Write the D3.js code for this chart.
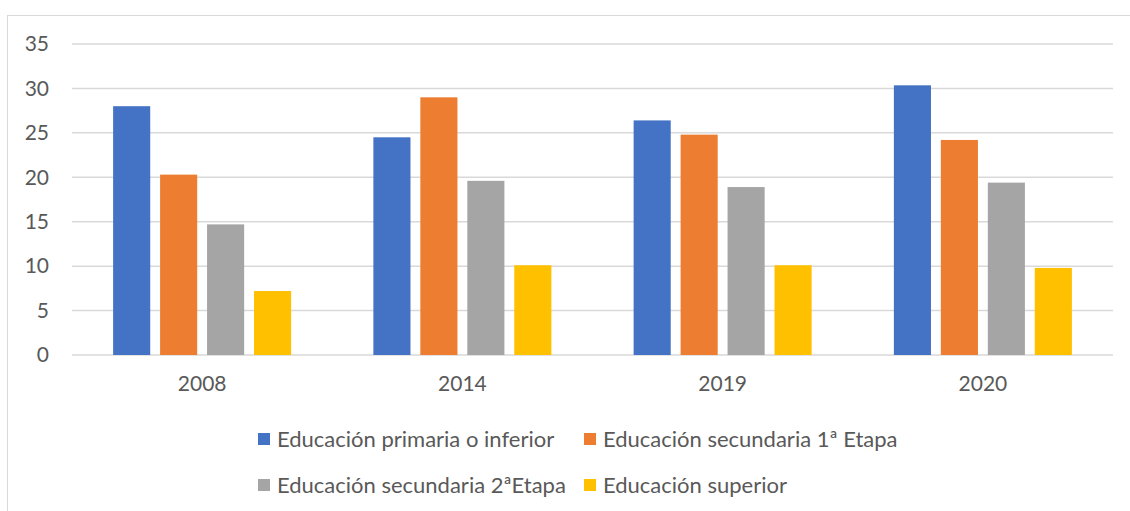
<!DOCTYPE html>
<html>
<head>
<meta charset="utf-8">
<script src="https://cdn.jsdelivr.net/npm/d3@7"></script>
<style>
  body { margin: 0; background: #fff; }
  svg { display: block; font-family: Lato, 'Open Sans', sans-serif; }
</style>
</head>
<body>
<div id="chart"></div>
<script>
// Data
const years = ['2008', '2014', '2019', '2020']
const seriesNames = [
  'Educación primaria o inferior',
  'Educación secundaria 1ª Etapa',
  'Educación secundaria 2ªEtapa',
  'Educación superior',
]
const primaria = [28.0, 24.5, 26.4, 30.35]
const secundaria1 = [20.3, 29.0, 24.8, 24.2]
const secundaria2 = [14.7, 19.6, 18.9, 19.4]
const superior = [7.2, 10.1, 10.1, 9.8]
const yTicks = [0, 5, 10, 15, 20, 25, 30, 35]
const colors = ['#4472C4', '#ED7D31', '#A5A5A5', '#FFC000']

const seriesValues = [primaria, secundaria1, secundaria2, superior]

const width = 1130
const height = 511
const margin = { left: 72, right: 17, top: 44, bottom: 156 }

const svg = d3
  .select('#chart')
  .append('svg')
  .attr('width', width)
  .attr('height', height)

// Outer chart frame
svg
  .append('rect')
  .attr('x', 7.5)
  .attr('y', 15.5)
  .attr('width', width + 20)
  .attr('height', height + 20)
  .attr('fill', 'none')
  .attr('stroke', '#d9d9d9')
  .attr('stroke-width', 1)

const x0 = d3
  .scaleBand()
  .domain(years)
  .range([margin.left, width - margin.right])
  .paddingInner(0.316)
  .paddingOuter(0.158)

const x1 = d3
  .scaleBand()
  .domain(seriesNames)
  .range([0, x0.bandwidth()])
  .paddingInner(0.21)

const y = d3
  .scaleLinear()
  .domain([0, 35])
  .range([height - margin.bottom, margin.top])

// Gridlines
svg
  .append('g')
  .selectAll('line')
  .data(yTicks)
  .join('line')
  .attr('x1', margin.left)
  .attr('x2', width - margin.right)
  .attr('y1', (d) => y(d))
  .attr('y2', (d) => y(d))
  .attr('stroke', '#d9d9d9')
  .attr('stroke-width', 1.5)

// Y axis labels
const yAxis = svg
  .append('g')
  .attr('transform', `translate(${margin.left - 23},0)`)
  .call(d3.axisLeft(y).tickValues(yTicks).tickSize(0).tickPadding(0))
yAxis.select('.domain').remove()
yAxis
  .selectAll('text')
  .attr('fill', '#595959')
  .style('font-size', '21px')
  .style('font-family', 'Lato, sans-serif')

// X axis labels
const xAxis = svg
  .append('g')
  .attr('transform', `translate(0,${y(0) + 17})`)
  .call(d3.axisBottom(x0).tickSize(0).tickPadding(4))
xAxis.select('.domain').remove()
xAxis
  .selectAll('text')
  .attr('fill', '#595959')
  .style('font-size', '21px')
  .style('font-family', 'Lato, sans-serif')

// Bars
const groups = svg
  .append('g')
  .selectAll('g')
  .data(years)
  .join('g')
  .attr('transform', (d) => `translate(${x0(d)},0)`)

groups
  .selectAll('rect')
  .data((d, i) => seriesNames.map((s, j) => ({ s, j, v: seriesValues[j][i] })))
  .join('rect')
  .attr('x', (d) => x1(d.s))
  .attr('width', x1.bandwidth())
  .attr('y', (d) => y(d.v))
  .attr('height', (d) => y(0) - y(d.v))
  .attr('fill', (d) => colors[d.j])

// Legend
const legendPos = [
  [258, 439],
  [584, 439],
  [258, 485],
  [584, 485],
]
const legend = svg
  .append('g')
  .selectAll('g')
  .data(seriesNames)
  .join('g')
  .attr('transform', (d, i) => `translate(${legendPos[i][0]},${legendPos[i][1]})`)

legend
  .append('rect')
  .attr('x', 0)
  .attr('y', -6)
  .attr('width', 12)
  .attr('height', 12)
  .attr('fill', (d, i) => colors[i])

legend
  .append('text')
  .attr('x', 19)
  .attr('y', 0)
  .attr('dy', '0.35em')
  .attr('fill', '#595959')
  .style('font-size', '22px')
  .text((d) => d)
</script>
</body>
</html>
